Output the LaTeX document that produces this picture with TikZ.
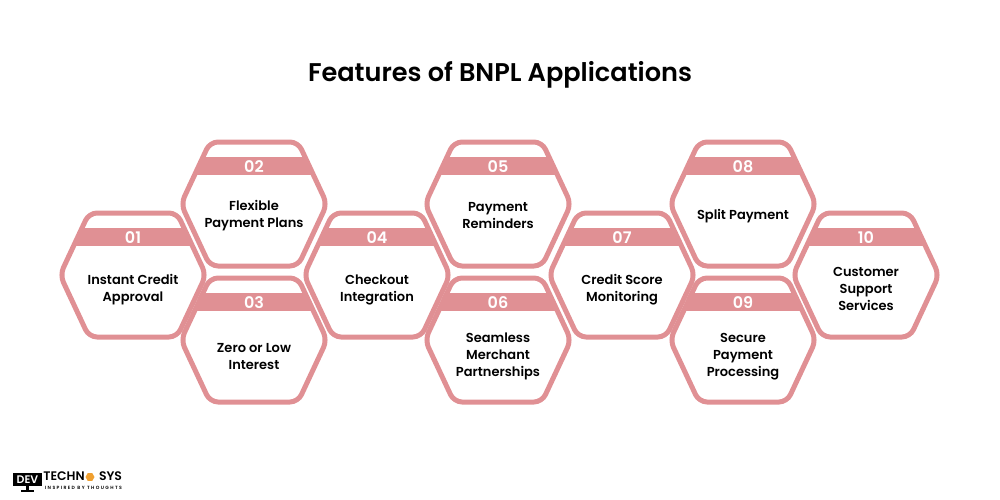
\documentclass[tikz,border=0pt]{standalone}
\usepackage{fontspec}
\usetikzlibrary{shapes.geometric}
\setmainfont{Poppins}[BoldFont={Poppins SemiBold}]
\definecolor{hexrose}{HTML}{E09094}
\definecolor{logoorange}{HTML}{F0A030}
\begin{document}
\begin{tikzpicture}[x=1pt,y=-1pt]
        \tikzstyle{hexline}=[draw=hexrose,line width=5pt,rounded corners=8pt]
        \tikzstyle{numtext}=[text=white,font=\bfseries\fontsize{16}{16}\selectfont,inner sep=0pt]
        \tikzstyle{celltext}=[align=center,font=\bfseries\fontsize{13}{17}\selectfont,inner sep=0pt,text=black]
        \useasboundingbox (0,0) rectangle (1000,500);
        \node[font=\bfseries\fontsize{25.6}{28}\selectfont,inner sep=0pt] (title) at (500,75) {Features of BNPL Applications};
        \foreach \cx/\cy/\ty/\num/\txt in {133/275/289.5/01/{Instant Credit\\Approval},254/204/216/02/{Flexible\\Payment Plans},254/340/356.5/03/{Zero or Low\\Interest},377/275/289.5/04/{Checkout\\Integration},498/204/216/05/{Payment\\Reminders},498/340/356.5/06/{Seamless\\Merchant\\Partnerships},622/275/289.5/07/{Credit Score\\Monitoring},743/204/216/08/{Split Payment},743/340/356.5/09/{Secure\\Payment\\Processing},866/275/288.5/10/{Customer\\Support\\Services}} {
            \def\hexpath{(\cx-73,\cy) -- (\cx-44,\cy-62) -- (\cx+44,\cy-62) -- (\cx+73,\cy) -- (\cx+44,\cy+62) -- (\cx-44,\cy+62) -- cycle}
            \begin{scope}
                \clip[rounded corners=8pt] \hexpath;
                \fill[hexrose] (\cx-75,\cy-47) rectangle (\cx+75,\cy-29);
            \end{scope}
            \draw[hexline] \hexpath;
            \node[numtext] (num\num) at (\cx,\cy-37) {\num};
            \node[celltext] (cell\num) at (\cx,\ty) {\txt};
        }
        % logo
        \fill[black] (13,473) rectangle (42,486);
        \fill[black] (21,490) rectangle (34,491.5);
        \fill[black] (26,486) rectangle (29,490);
        \node[text=white,font=\bfseries\fontsize{11}{11}\selectfont,inner sep=0pt] (logodev) at (27.5,480) {DEV};
        \node[font=\bfseries\fontsize{12.4}{13}\selectfont,inner sep=0pt] (logotech) at (64,476.5) {TECHN};
        \node[font=\bfseries\fontsize{12.4}{13}\selectfont,inner sep=0pt] (logosys) at (110.5,476.5) {SYS};
        \node[regular polygon,regular polygon sides=6,fill=logoorange,minimum size=9pt,inner sep=0pt] (logohex) at (90,477) {};
        \node[font=\bfseries\fontsize{4.6}{5}\selectfont\addfontfeature{LetterSpace=30},inner sep=0pt] (logotag) at (83.5,488) {INSPIRED BY THOUGHTS};
    \end{tikzpicture}
\end{document}
